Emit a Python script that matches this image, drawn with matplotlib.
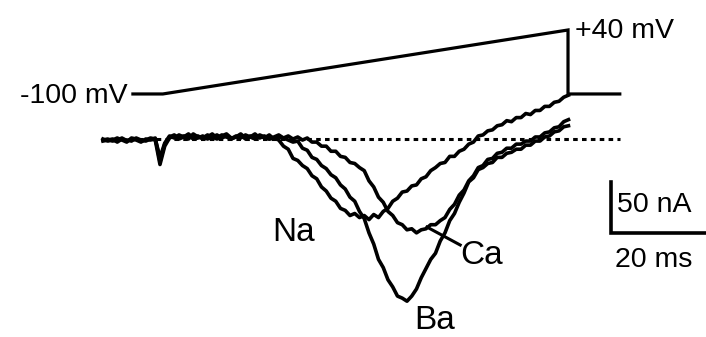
import numpy as np
import matplotlib
matplotlib.use('Agg')
import matplotlib.pyplot as plt

plt.rcParams['font.family'] = ['Liberation Sans', 'DejaVu Sans']

# current traces (nA), sampled every 1 ms
dt = 1.0

na_current = [
    -1, 0, -2, -1, 1, -2, 0, -1, -3, 0,
    -1, 1, -22, -5, 2, 4, 1, 3, 0, 5,
    2, 1, 4, 2, 0, 3, 5, 1, 2, 4,
    0, 3, 1, 4, 2, 0, 1, -1, -7, -10,
    -19, -21, -26, -29, -36, -39, -47, -51, -58, -61,
    -68, -70, -75, -73, -77, -75, -79, -74, -77, -71,
    -68, -61, -58, -52, -51, -46, -45, -39, -37, -31,
    -28, -24, -23, -17, -17, -12, -10, -5, -3, 3,
    4, 8, 9, 13, 14, 18, 17, 21, 21, 25,
    24, 28, 28, 32, 32, 36, 37, 41, 43,
]

ba_current = [
    0, -2, -1, 1, -1, -3, 1, 0, -2, -1,
    1, 0, -18, -4, 3, 1, 4, 2, 5, 1,
    3, 0, 2, 5, 1, 4, 2, 0, 3, 1,
    4, 2, 5, 1, 3, 0, 2, 4, 1, -1,
    -3, -2, -9, -11, -18, -20, -26, -29, -35, -38,
    -45, -49, -57, -61, -71, -78, -92, -103, -118, -126,
    -138, -145, -154, -156, -159, -154, -147, -136, -127, -118,
    -112, -100, -92, -80, -73, -62, -53, -42, -38, -30,
    -28, -24, -23, -18, -18, -14, -13, -10, -10, -6,
    -6, -2, -2, 2, 3, 7, 8, 12, 13,
]

ca_current = [
    -2, -1, 0, -3, 0, -1, -2, 1, -1, -2,
    0, -1, -25, -7, 1, 3, 0, 2, 4, 0,
    1, 3, 0, 2, 4, 1, 3, 0, 2, 5,
    1, 2, 0, 3, 1, 4, 0, 2, 1, 3,
    0, 2, -1, 1, -3, -3, -7, -7, -12, -12,
    -17, -18, -23, -24, -28, -31, -41, -47, -57, -62,
    -71, -75, -82, -84, -89, -88, -92, -89, -88, -84,
    -84, -80, -77, -69, -64, -55, -50, -41, -36, -28,
    -26, -20, -19, -14, -13, -9, -9, -5, -5, -2,
    -2, 2, 2, 6, 7, 11, 12, 17, 19,
]

# voltage ramp protocol
ramp_t = [6.3, 12.6, 97.9, 97.9, 108.8]
ramp_mv = [-100, -100, 40, -100, -100]

zero_line_t = [0.0, 108.8]

scale_nA = 50
scale_ms = 20

t = np.arange(len(na_current)) * dt

fig = plt.figure(figsize=(7.06, 3.37), dpi=100)
ax = fig.add_axes([0, 0, 1, 1])
ax.set_xlim(-21.68, 126.95)
ax.set_ylim(-194.1, 136.3)
ax.axis('off')

lw = 2.6
ax.plot(zero_line_t, [0, 0], color='black', lw=2.2,
        linestyle=(0, (1.5, 1.4)), zorder=1)
for trace in (na_current, ca_current, ba_current):
    ax.plot(t, trace, color='black', lw=lw, solid_joinstyle='round', zorder=2)

# ion labels
ax.text(35.7, -100, 'Na', fontsize=24, va='baseline', ha='left')
ax.text(75.2, -122.5, 'Ca', fontsize=24, va='baseline', ha='left')
ax.text(65.6, -186.5, 'Ba', fontsize=24, va='baseline', ha='left')
ax.plot([68.2, 75.2], [-86.3, -103.9], color='black', lw=2.2)

# scale bar
bar_t0, bar_i0 = 106.9, -92.2
ax.plot([bar_t0, bar_t0, bar_t0 + scale_ms],
        [bar_i0 + scale_nA, bar_i0, bar_i0],
        color='black', lw=2.6, solid_joinstyle='miter')
ax.text(108.2, -71.6, f'{scale_nA} nA', fontsize=20.5, va='baseline', ha='left')
ax.text(107.8, -125.5, f'{scale_ms} ms', fontsize=20.5, va='baseline', ha='left')

# voltage command on its own scale
ax2 = ax.twinx()
ax2.set_ylim(-631.7, 105.6)
ax2.axis('off')
ax2.plot(ramp_t, ramp_mv, color='black', lw=2.3, solid_joinstyle='miter')
ax2.text(5.26, -119.7, '-100 mV', fontsize=20.5, va='baseline', ha='right')
ax2.text(99.3, 22.5, '+40 mV', fontsize=20.5, va='baseline', ha='left')

fig.savefig('out.png', dpi=100, facecolor='white')
